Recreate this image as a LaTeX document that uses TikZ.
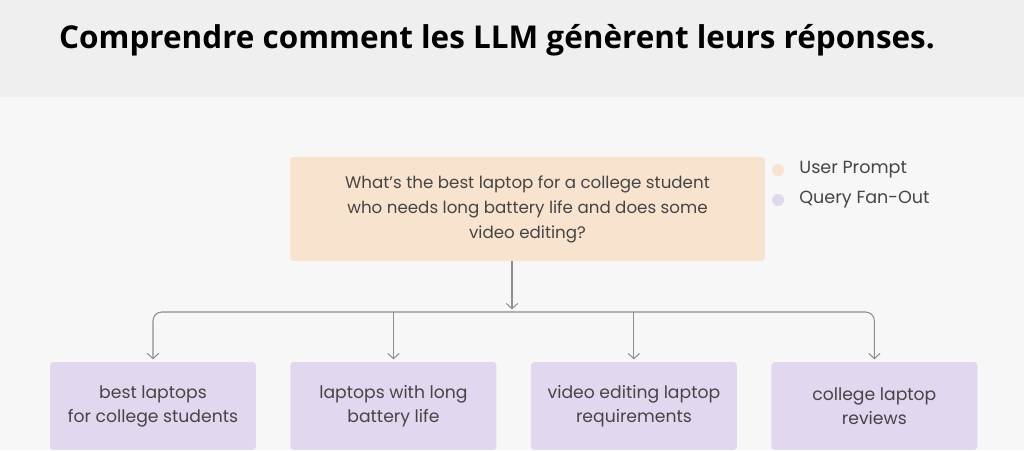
\documentclass[tikz,border=0pt]{standalone}
\usepackage{fontspec}
\setmainfont{Open Sans}
\newfontfamily\boxfont{Poppins}
\usetikzlibrary{arrows, arrows.meta, positioning}

\definecolor{headgray}{HTML}{EFEFEF}
\definecolor{pagegray}{HTML}{F7F7F7}
\definecolor{promptfill}{HTML}{F8E3CF}
\definecolor{fanfill}{HTML}{E1D7EF}
\definecolor{textgray}{HTML}{454545}
\definecolor{linegray}{HTML}{8E8E8E}

\begin{document}
\begin{tikzpicture}[
            x = 0.02cm, y = -0.02cm, % one unit per pixel
            > = {Straight Barb[length=3pt, width=6.5pt]}, % arrow head style
            shorten > = 1.5pt, % keep arrow head off the box
            node distance = 0.69cm, % gap between fan-out boxes
            semithick % line style
        ]

        \tikzstyle{prompt}=[
            fill = promptfill,
            rounded corners = 2pt,
            outer sep = 0pt,
            minimum width = 9.5cm,
            minimum height = 2.08cm,
            align = center,
            text = textgray,
            font = \boxfont\fontsize{9.5}{14.2}\selectfont
        ]
        \tikzstyle{fanout}=[
            fill = fanfill,
            rounded corners = 2pt,
            outer sep = 0pt,
            minimum width = 4.12cm,
            minimum height = 1.76cm,
            align = center,
            text = textgray,
            font = \boxfont\fontsize{9.8}{13.6}\selectfont
        ]
        \tikzstyle{legend}=[
            anchor = west,
            text = textgray,
            font = \boxfont\fontsize{10}{12}\selectfont
        ]
        \tikzstyle{link}=[->, linegray, line width = 0.6pt, rounded corners = 5pt]

    % background
    \fill[pagegray] (0,0) rectangle (1024,450);
    \fill[headgray] (0,0) rectangle (1024,97);
    \useasboundingbox (0,0) rectangle (1024,450);

	\node (title) at (497,40) {\bfseries\fontsize{17.9}{21}\selectfont Comprendre comment les LLM génèrent leurs réponses.};

	\node[prompt] (prompt) at (527.5,209) {What’s the best laptop for a college student\\who needs long battery life and does some\\video editing?};

	\node[fanout] (q1) at (153,406) {best laptops\\for college students};
	\node[fanout] (q2) [right=of q1] {laptops with long\\battery life};
	\node[fanout] (q3) [right=of q2] {video editing laptop\\requirements};
	\node[fanout] (q4) [right=of q3] {college laptop\\reviews};

	% legend
	\fill[promptfill] (778,170) circle (6);
	\node[legend] (user) at (793,170) {User Prompt};
	\fill[fanfill] (778,200) circle (6);
	\node[legend] (fan) at (793,200) {Query Fan-Out};

	\coordinate (split) at (512,312);
	\draw[link] (prompt.south -| split) -- (split);
	\draw[link] (split) -| (q1);
	\draw[link] (split) -| (q4);
	\draw[link] (split -| q2) -- (q2);
	\draw[link] (split -| q3) -- (q3);

    \end{tikzpicture}
\end{document}
